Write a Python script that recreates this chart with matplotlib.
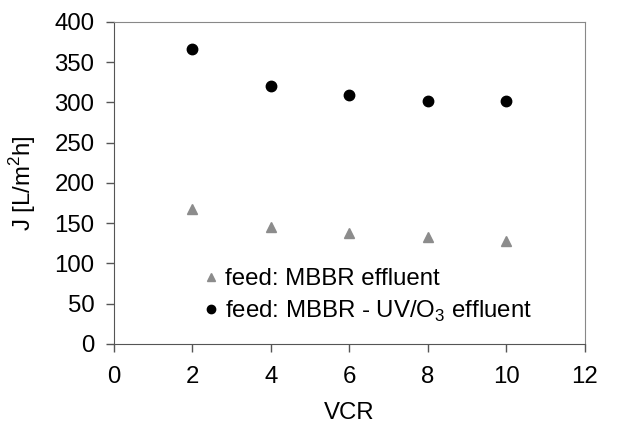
import matplotlib
matplotlib.use("Agg")
import matplotlib.pyplot as plt

plt.rcParams['font.family'] = ['Liberation Sans', 'DejaVu Sans']
plt.rcParams['mathtext.fontset'] = 'custom'
plt.rcParams['mathtext.rm'] = 'Liberation Sans'

vcr = [2, 4, 6, 8, 10]
flux_mbbr = [168, 145, 138, 133, 128]
flux_uv_o3 = [367, 320, 309, 302, 302]

fs = 17.3

fig = plt.figure(figsize=(6.19, 4.23), dpi=100)
ax = fig.add_axes([0.184, 0.187, 0.761, 0.761])

ax.plot(vcr, flux_mbbr, linestyle="none", marker="^", color="#8c8c8c",
        markersize=7, label="feed: MBBR effluent")
ax.plot(vcr, flux_uv_o3, linestyle="none", marker="o", color="black",
        markersize=7.5, label="feed: MBBR - UV/O$_3$ effluent")

ax.set_xlim(0, 12)
ax.set_ylim(0, 400)
ax.set_xticks(range(0, 13, 2))
ax.set_yticks(range(0, 401, 50))
ax.tick_params(labelsize=fs, length=6, width=1, color="#555555", direction="out")
ax.tick_params(axis="y", pad=8)
ax.tick_params(axis="x", pad=10)
for side in ["left", "bottom"]:
    ax.spines[side].set_color("#555555")
for side in ["top", "right"]:
    ax.spines[side].set_color("#888888")

ax.set_xlabel("VCR", fontsize=fs, labelpad=10)
ax.set_ylabel("J [L/m$^2$h]", fontsize=fs, labelpad=12)

ax.legend(loc="lower left", bbox_to_anchor=(0.155, 0.025), frameon=False,
          fontsize=fs, handletextpad=0.1, handlelength=1.0, borderpad=0,
          labelspacing=0.35, markerscale=0.8)

plt.savefig("out.png", dpi=100)
